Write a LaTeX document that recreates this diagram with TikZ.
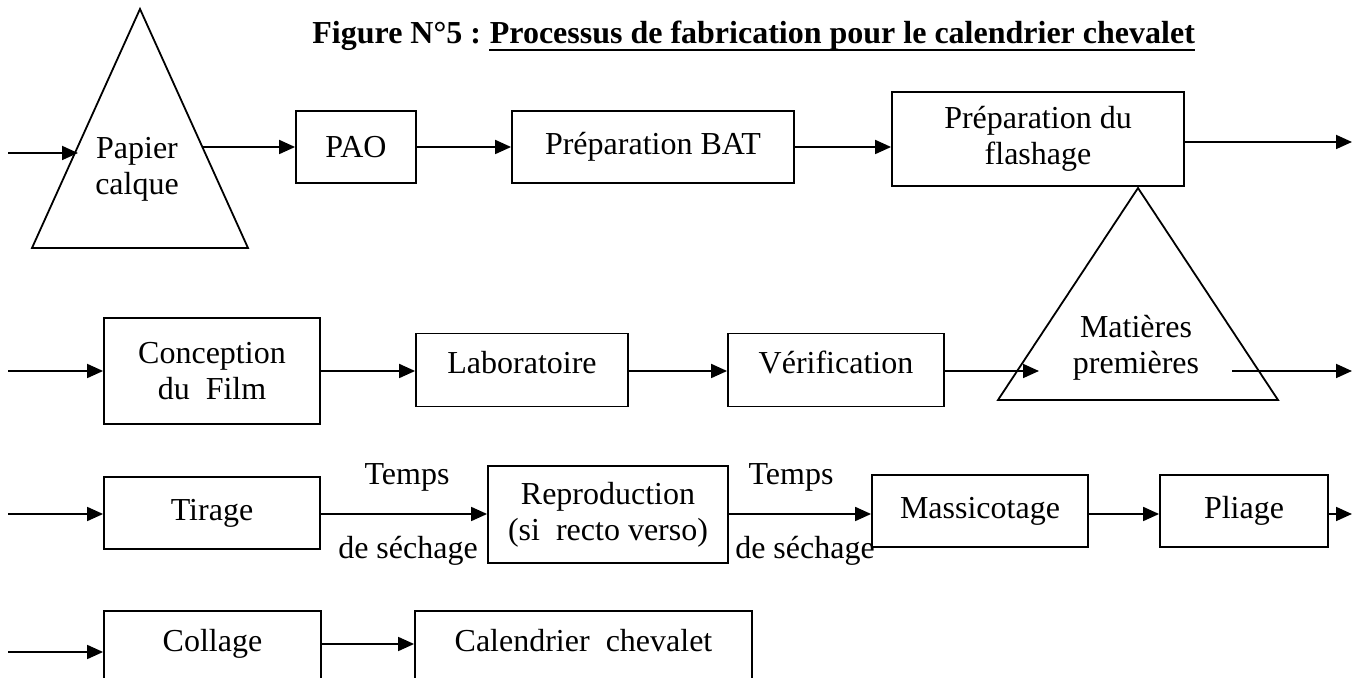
\documentclass[tikz,border=0pt]{standalone}
\usepackage{fontspec}
\setmainfont{Liberation Serif}
\usetikzlibrary{arrows.meta}
\begin{document}
\begin{tikzpicture}[x=0.5pt,y=-0.5pt,
  every node/.style={font=\fontsize{16pt}{18pt}\selectfont},
  stage/.style={draw, line width=0.9pt, inner sep=0pt, align=center},
  flow/.style={line width=0.9pt, -{Triangle[length=8pt,width=7pt]}},
  supply/.style={line width=0.9pt, line join=miter},
  note/.style={inner sep=0pt},
  heading/.style={inner sep=0pt, font=\bfseries\fontsize{16pt}{18pt}\selectfont}
]
\useasboundingbox (0,0) rectangle (1362,678);
\clip (0,0) rectangle (1362,678);

% heading
\node[heading, anchor=base west] (figlabel) at (312,44) {Figure N°5 :};
\node[heading, anchor=base west] (figtitle) at ([xshift=4pt]figlabel.base east)
  {Processus de fabrication pour le calendrier chevalet};
\draw[line width=1.4pt] ([yshift=-3pt]figtitle.base west) -- ([yshift=-3pt]figtitle.base east);

% ---- first line ----
\coordinate (t1top) at (140,9);
\coordinate (t1left) at (32,248);
\coordinate (t1right) at (248,248);
\draw[supply] (t1top) -- (t1right) -- (t1left) -- cycle;
\node[align=center] (papier) at (137,169) {Papier\\calque};
\coordinate (in1) at (8,153);
\coordinate (t1in) at (78,153);
\coordinate (t1out) at (203,147);

\node[stage, minimum width=60pt, minimum height=36pt] (pao) at (356,147) {PAO};
\node[stage, minimum width=141pt, minimum height=36pt] (bat) at (653,147) {Préparation BAT};
\node[stage, minimum width=146pt, minimum height=47pt] (flash) at (1038,139)
  {Préparation du\\flashage};
\coordinate (out1) at (1352,142);

\draw[flow] (in1) -- (t1in);
\draw[flow] (t1out) -- (pao.west);
\draw[flow] (pao.east) -- (pao.east -| bat.west);
\draw[flow] (bat.east) -- (bat.east -| flash.west);
\draw[flow] (flash.east |- out1) -- (out1);

% ---- second line ----
\coordinate (t2top) at (1138,188);
\coordinate (t2left) at (998,400);
\coordinate (t2right) at (1278,400);
\draw[supply] (t2top) -- (t2right) -- (t2left) -- cycle;
\node[align=center] (matieres) at (1136,348) {Matières\\premières};
\coordinate (t2in) at (1039,371);
\coordinate (t2out) at (1232,371);
\coordinate (out2) at (1352,371);

\coordinate (in2) at (8,371);
\node[stage, minimum width=108pt, minimum height=53pt] (concep) at (212,371)
  {Conception\\du\ \ Film};
\node[stage, minimum width=106pt, minimum height=36.5pt, text depth=8pt] (labo) at (522,370) {Laboratoire};
\node[stage, minimum width=108pt, minimum height=36.5pt, text depth=8pt] (verif) at (836,370) {Vérification};

\draw[flow] (in2) -- (concep.west);
\draw[flow] (concep.east) -- (concep.east -| labo.west);
\draw[flow] (concep.east -| labo.east) -- (concep.east -| verif.west);
\draw[flow] (concep.east -| verif.east) -- (t2in);
\draw[flow] (t2out) -- (out2);

% ---- third line ----
\coordinate (in3) at (8,514);
\node[stage, minimum width=108pt, minimum height=36pt] (tirage) at (212,513) {Tirage};
\node[stage, minimum width=120pt, minimum height=48.5pt] (repro) at (608,514.5)
  {Reproduction\\(si\ \ recto verso)};
\node[stage, minimum width=108pt, minimum height=36pt] (massi) at (980,511) {Massicotage};
\node[stage, minimum width=84pt, minimum height=36pt] (pliage) at (1244,511) {Pliage};
\coordinate (out3) at (1352,514);

\draw[flow] (in3) -- (in3 -| tirage.west);
\draw[flow] (in3 -| tirage.east) -- (in3 -| repro.west)
  node[note, midway, yshift=18.3pt, xshift=1.5pt] {Temps}
  node[note, midway, yshift=-18.5pt, xshift=2pt] {de séchage};
\draw[flow] (in3 -| repro.east) -- (in3 -| massi.west)
  node[note, midway, yshift=18.3pt, xshift=-4.5pt] {Temps}
  node[note, midway, yshift=-18.5pt, xshift=2.5pt] {de séchage};
\draw[flow] (in3 -| massi.east) -- (in3 -| pliage.west);
\draw[flow] (in3 -| pliage.east) -- (out3);

% ---- fourth line ----
\coordinate (in4) at (8,652);
\node[stage, minimum width=108.5pt, text height=11pt, text depth=40pt, inner ysep=9.5pt,
  anchor=base] (collage) at (212.5,652) {Collage};
\node[stage, minimum width=168.5pt, text height=11pt, text depth=40pt, inner ysep=9.5pt,
  anchor=base] (calend) at (583.5,652) {Calendrier\ \ chevalet};

\draw[flow] (in4) -- (collage.base west);
\draw[flow] ([yshift=4pt]collage.base east) -- ([yshift=4pt]calend.base west);
\end{tikzpicture}
\end{document}
